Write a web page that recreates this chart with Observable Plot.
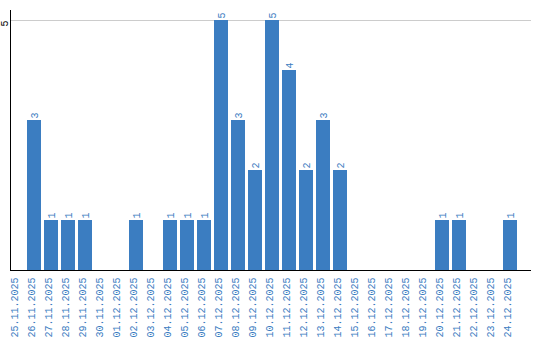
<!DOCTYPE html>
<html>
<head>
<meta charset="utf-8">
<script src="https://cdn.jsdelivr.net/npm/d3@7"></script>
<script src="https://cdn.jsdelivr.net/npm/@observablehq/plot@0.6"></script>
<style>
html, body { margin: 0; padding: 0; background: #fff; }
</style>
</head>
<body>
<div id="chart"></div>
<script>
const dates = ["25.11.2025","26.11.2025","27.11.2025","28.11.2025","29.11.2025","30.11.2025",
  "01.12.2025","02.12.2025","03.12.2025","04.12.2025","05.12.2025","06.12.2025","07.12.2025",
  "08.12.2025","09.12.2025","10.12.2025","11.12.2025","12.12.2025","13.12.2025","14.12.2025",
  "15.12.2025","16.12.2025","17.12.2025","18.12.2025","19.12.2025","20.12.2025","21.12.2025",
  "22.12.2025","23.12.2025","24.12.2025"];
const counts = [0,3,1,1,1,0,0,1,0,1,1,1,5,3,2,5,4,2,3,2,0,0,0,0,0,1,1,0,0,1];
const yTicks = [5];

const blue = "#3b7dc1";
const font = "Liberation Mono";
const data = dates.map((d, i) => ({date: d, value: counts[i]}));

const chart = Plot.plot({
  width: 540,
  height: 340,
  marginTop: 10,
  marginBottom: 70,
  marginLeft: 10,
  marginRight: 9,
  style: {fontFamily: font, fontSize: "10px", background: "white"},
  x: {domain: dates, range: [10, 517], paddingInner: 0.18, paddingOuter: 0, axis: null},
  y: {domain: [0, 5.2], axis: null},
  marks: [
    Plot.ruleY(yTicks, {stroke: "#cccccc"}),
    Plot.barY(data, {x: "date", y: "value", fill: blue}),
    Plot.text(data.filter(d => d.value > 0), {x: "date", y: "value", text: d => String(d.value),
      rotate: -90, textAnchor: "start", dy: -2, fill: blue, fontFamily: font, fontSize: 10}),
    Plot.text(dates, {x: d => d, text: d => d, frameAnchor: "bottom", dy: 7, rotate: -90,
      textAnchor: "end", fill: blue, fontFamily: font, fontSize: 10}),
    Plot.text(yTicks, {y: d => d, text: d => String(d), frameAnchor: "left", dx: -6, rotate: -90,
      textAnchor: "end", fill: "black", fontFamily: font, fontSize: 10}),
    Plot.ruleY([0], {stroke: "black"}),
    Plot.frame({anchor: "left", stroke: "black"})
  ]
});
document.getElementById("chart").append(chart);
</script>
</body>
</html>
